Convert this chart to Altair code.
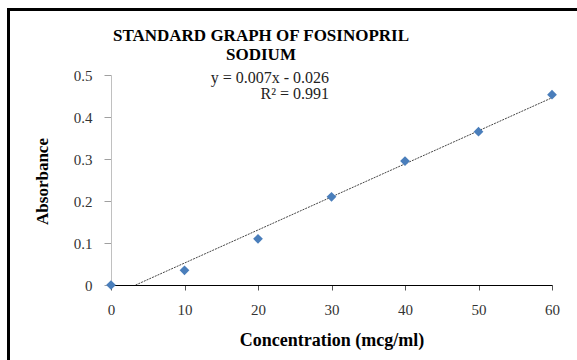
import altair as alt
import pandas as pd

# data
concentration = [0, 10, 20, 30, 40, 50, 60]
absorbance = [0.0, 0.035, 0.11, 0.21, 0.295, 0.365, 0.453]
title_lines = ["STANDARD GRAPH OF FOSINOPRIL", "SODIUM"]
equation_lines = ["y = 0.007x - 0.026", "R\u00b2 = 0.991"]
x_ticks = [0, 10, 20, 30, 40, 50, 60]
y_ticks = [0, 0.1, 0.2, 0.3, 0.4, 0.5]

df = pd.DataFrame({"conc": concentration, "abs": absorbance})

FONT = "Liberation Serif"
W, H = 441, 210

x_enc = alt.X(
    "conc:Q",
    scale=alt.Scale(domain=[0, 60], nice=False),
    axis=alt.Axis(
        values=x_ticks,
        title="Concentration (mcg/ml)",
        titleFont=FONT, titleFontSize=18, titleFontWeight="bold", titleColor="#000000",
        titleX=W / 2, titleY=55, titleBaseline="middle", titleAlign="center",
        labelFont=FONT, labelFontSize=15, labelColor="#333333",
        labelBaseline="middle", labelPadding=19, labelFlush=False,
        domainColor="#000000", domainWidth=1.2,
        tickColor="#555555", tickSize=5,
        grid=False,
    ),
)
y_enc = alt.Y(
    "abs:Q",
    scale=alt.Scale(domain=[0, 0.5], nice=False),
    axis=alt.Axis(
        values=y_ticks,
        labelExpr="datum.value == 0 ? '0' : format(datum.value, '.1f')",
        title="Absorbance",
        titleFont=FONT, titleFontSize=17, titleFontWeight="bold", titleColor="#000000",
        titleAngle=270, titleX=-69, titleY=H / 2 + 1, titleBaseline="middle", titleAlign="center",
        labelFont=FONT, labelFontSize=15, labelColor="#333333",
        labelPadding=12, labelFlush=False,
        domainColor="#c0c0c0", domainWidth=1,
        tickColor="#a0a0a0", tickSize=7,
        grid=False,
    ),
)

base = alt.Chart(df)

trend = base.transform_regression("conc", "abs").mark_line(
    color="#303030", strokeWidth=0.9, strokeDash=[2, 1], clip=True
).encode(x=x_enc, y=y_enc)

points = base.mark_point(
    shape="diamond", filled=True, size=95, color="#4a7ebb", opacity=1
).encode(x="conc:Q", y="abs:Q")

title_df = pd.DataFrame({"t": title_lines, "yy": [-39, -20]})
title = alt.Chart(title_df).mark_text(
    font=FONT, fontSize=17, fontWeight="bold", color="#000000",
    align="center", baseline="middle"
).encode(text="t:N", x=alt.value(150), y=alt.Y("yy:Q", scale=None, axis=None))

eq_df = pd.DataFrame({"t": equation_lines, "yy": [3, 19]})
equation = alt.Chart(eq_df).mark_text(
    font=FONT, fontSize=16, color="#222222", align="right", baseline="middle"
).encode(text="t:N", x=alt.value(218), y=alt.Y("yy:Q", scale=None, axis=None))

border_top = alt.Chart(pd.DataFrame({"a": [0]})).mark_rule(
    color="#000000", strokeWidth=3
).encode(x=alt.value(-104), x2=alt.value(480), y=alt.value(-65.5))
border_left = alt.Chart(pd.DataFrame({"a": [0]})).mark_rule(
    color="#000000", strokeWidth=3
).encode(x=alt.value(-102.5), y=alt.value(-67), y2=alt.value(300))

chart = alt.layer(trend, points, title, equation, border_top, border_left).properties(
    width=W, height=H,
    padding={"left": 111, "top": 75, "right": 25, "bottom": 75},
    autosize=alt.AutoSizeParams(type="none"),
    background="#ffffff",
).configure_view(stroke=None)

chart.save("out.html", embed_options={"renderer": "svg", "actions": False})
